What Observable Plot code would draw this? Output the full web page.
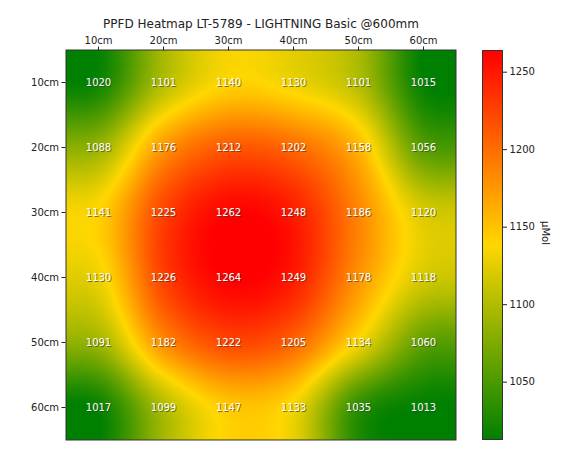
<!DOCTYPE html>
<html><head><meta charset="utf-8">
<script src="https://cdn.jsdelivr.net/npm/d3@7"></script>
<script src="https://cdn.jsdelivr.net/npm/@observablehq/plot@0.6"></script>
<style>
body{margin:0;background:#fff;font-family:"DejaVu Sans",sans-serif}
#wrap{position:relative;width:585px;height:453px}
#wrap svg{position:absolute;left:0;top:0}
</style>
</head><body><div id="wrap"></div>
<script>
const title = "PPFD Heatmap LT-5789 - LIGHTNING Basic @600mm";
const unitLabel = "μMol";
const positions = [10, 20, 30, 40, 50, 60];
const tickLabels = ["10cm", "20cm", "30cm", "40cm", "50cm", "60cm"];
const row10 = [1020, 1101, 1140, 1130, 1101, 1015];
const row20 = [1088, 1176, 1212, 1202, 1158, 1056];
const row30 = [1141, 1225, 1262, 1248, 1186, 1120];
const row40 = [1130, 1226, 1264, 1249, 1178, 1118];
const row50 = [1091, 1182, 1222, 1205, 1134, 1060];
const row60 = [1017, 1099, 1147, 1133, 1035, 1013];
const colorbarTicks = [1050, 1100, 1150, 1200, 1250];

const grid = [row10, row20, row30, row40, row50, row60];
const n = positions.length;
const vmin = d3.min(grid.flat()), vmax = d3.max(grid.flat());
const cells = [];
grid.forEach((row, r) => row.forEach((v, c) => cells.push({x: positions[c], y: positions[r], v})));

function kern(t) {
  const a = -0.5; t = Math.abs(t);
  if (t <= 1) return (a + 2) * t * t * t - (a + 3) * t * t + 1;
  if (t < 2) return a * t * t * t - 5 * a * t * t + 8 * a * t - 4 * a;
  return 0;
}
function at(r, c) {
  r = Math.max(0, Math.min(n - 1, r)); c = Math.max(0, Math.min(n - 1, c));
  return grid[r][c];
}
function bicubic(x, y) {
  const step = positions[1] - positions[0];
  const fx = (x - positions[0]) / step, fy = (y - positions[0]) / step;
  const ix = Math.floor(fx), iy = Math.floor(fy);
  let s = 0;
  for (let j = -1; j <= 2; j++) for (let i = -1; i <= 2; i++)
    s += kern(fx - (ix + i)) * kern(fy - (iy + j)) * at(iy + j, ix + i);
  return s;
}

const color = {type: "linear", domain: [vmin, (vmin + vmax) / 2, vmax], range: ["green", "gold", "red"], interpolate: "rgb", clamp: true};
const fmt = d => tickLabels[positions.indexOf(d)];
const lo = positions[0] - 5, hi = positions[n - 1] + 5;
const style = {fontFamily: "DejaVu Sans, sans-serif", fontSize: "10px", color: "#222", background: "transparent", overflow: "visible"};

const main = Plot.plot({
  width: 585, height: 453,
  marginLeft: 65.5, marginRight: 129.5, marginTop: 49.5, marginBottom: 13.5,
  style,
  x: {domain: [lo, hi], axis: null},
  y: {domain: [lo, hi], reverse: true, axis: null},
  color,
  marks: [
    Plot.raster({x1: lo, x2: hi, y1: lo, y2: hi, fill: (x, y) => bicubic(x, y)}),
    Plot.axisX(positions, {anchor: "top", tickFormat: fmt, tickSize: 4, tickPadding: 2, label: null, fontSize: 10}),
    Plot.axisY(positions, {anchor: "left", tickFormat: fmt, tickSize: 4, tickPadding: 3, label: null, fontSize: 10}),
    Plot.text(cells, {x: "x", y: "y", text: d => String(d.v), fill: "#333", fillOpacity: 0.6, dx: 1, dy: 1, fontSize: 10}),
    Plot.text(cells, {x: "x", y: "y", text: d => String(d.v), fill: "white", fontSize: 10}),
    Plot.frame({stroke: "#333"}),
    Plot.text([title], {frameAnchor: "top", dy: -22, lineAnchor: "bottom", fontSize: 12, fill: "#222"})
  ]
});

const bar = Plot.plot({
  width: 585, height: 453,
  marginLeft: 482, marginRight: 83, marginTop: 50, marginBottom: 14,
  style,
  x: {domain: [0, 1], axis: null},
  y: {domain: [vmin, vmax], axis: null},
  color,
  marks: [
    Plot.raster({x1: 0, x2: 1, y1: vmin, y2: vmax, fill: (x, y) => y}),
    Plot.axisY(colorbarTicks, {anchor: "right", tickFormat: d => String(d), tickSize: 4, tickPadding: 3, label: null, fontSize: 10}),
    Plot.frame({stroke: "#333"}),
    Plot.text([unitLabel], {frameAnchor: "right", dx: 43, rotate: 90, fontSize: 10, fill: "#222"})
  ]
});

const wrap = document.getElementById("wrap");
wrap.appendChild(main);
wrap.appendChild(bar);
</script>
</body></html>
